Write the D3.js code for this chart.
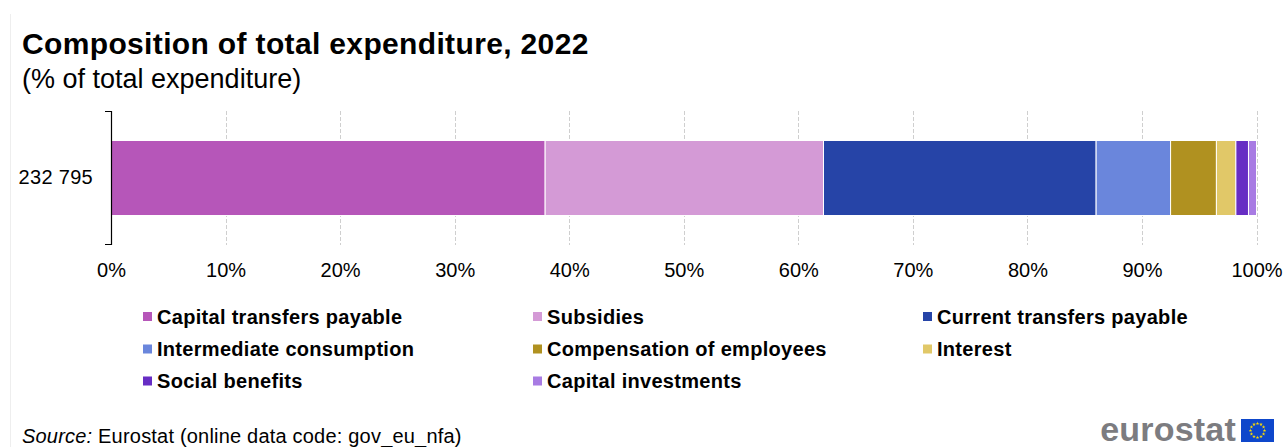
<!DOCTYPE html>
<html>
<head>
<meta charset="utf-8">
<script src="https://cdn.jsdelivr.net/npm/d3@7"></script>
<style>
  html, body { margin: 0; padding: 0; background: #fff; }
  svg { display: block; font-family: "Liberation Sans", Arial, sans-serif; }
</style>
</head>
<body>
<svg id="chart" width="1287" height="447"></svg>
<script>
// Expenditure categories, shares of total expenditure (%)
const categories = [
  "Capital transfers payable",
  "Subsidies",
  "Current transfers payable",
  "Intermediate consumption",
  "Compensation of employees",
  "Interest",
  "Social benefits",
  "Capital investments"
];
const shares = [37.9, 24.3, 23.8, 6.5, 4.0, 1.7, 1.1, 0.7];
const colors = ["#b656b9", "#d49ad6", "#2644a7", "#6a86dc", "#b09120", "#e1c868", "#672dc4", "#a87be3"];
const rowLabels = ["232 795"];
const xTicks = [0, 10, 20, 30, 40, 50, 60, 70, 80, 90, 100];

const FONT = "\"Liberation Sans\", Arial, sans-serif";
const svg = d3.select("#chart");

// faint frame line on the left edge
svg.append("line")
  .attr("x1", 10.5).attr("x2", 10.5).attr("y1", 14).attr("y2", 447)
  .attr("stroke", "#eeeeee").attr("stroke-width", 1);

// titles
svg.append("text")
  .attr("x", 22).attr("y", 54)
  .attr("font-size", 30).attr("font-weight", "bold").attr("fill", "#000")
  .attr("letter-spacing", 0.35)
  .text("Composition of total expenditure, 2022");
svg.append("text")
  .attr("x", 22).attr("y", 88)
  .attr("font-size", 27).attr("fill", "#000")
  .text("(% of total expenditure)");

// scales
const x = d3.scaleLinear().domain([0, 100]).range([111, 1256.5]);
const y = d3.scaleBand().domain(rowLabels).range([111, 245]).paddingInner(0).paddingOuter(0.393);

// dashed vertical gridlines
svg.append("g")
  .selectAll("line")
  .data(xTicks.filter(t => t > 0))
  .join("line")
  .attr("x1", d => Math.round(x(d)) + 0.5)
  .attr("x2", d => Math.round(x(d)) + 0.5)
  .attr("y1", 111).attr("y2", 245)
  .attr("stroke", "#cfcfcf").attr("stroke-width", 1)
  .attr("stroke-dasharray", "4,2");

// stacked segments
const row = { label: rowLabels[0] };
categories.forEach((c, i) => { row[c] = shares[i]; });
const stacked = d3.stack().keys(categories)([row]);

svg.append("g")
  .selectAll("rect")
  .data(stacked)
  .join("rect")
  .attr("x", d => x(d[0][0]))
  .attr("width", d => x(d[0][1]) - x(d[0][0]))
  .attr("y", y(rowLabels[0]))
  .attr("height", y.bandwidth())
  .attr("fill", (d, i) => colors[i])
  .attr("stroke", "#ffffff")
  .attr("stroke-width", 1);

// category axis (bracket style)
const yAxis = d3.axisLeft(y).tickSize(0).tickPadding(18);
const yg = svg.append("g").attr("transform", "translate(111,0)").call(yAxis);
yg.select(".domain").remove();
yg.selectAll("text").attr("font-size", 20).attr("fill", "#000").attr("font-family", FONT)
  .attr("letter-spacing", 0.3);
svg.append("path")
  .attr("d", "M105,111.5H111.5V244.5H105")
  .attr("fill", "none").attr("stroke", "#000").attr("stroke-width", 1.2);

// value axis labels
const xAxis = d3.axisBottom(x).tickValues(xTicks).tickFormat(d => d + "%").tickSize(0).tickPadding(0);
const xg = svg.append("g").attr("transform", "translate(0,263)").call(xAxis);
xg.select(".domain").remove();
xg.selectAll("text").attr("font-size", 20).attr("fill", "#000").attr("font-family", FONT);

// legend: three columns
const colX = [143, 533, 923];
const rowY = [316.5, 349, 381];
const legend = svg.append("g")
  .selectAll("g")
  .data(categories)
  .join("g")
  .attr("transform", (d, i) => `translate(${colX[i % 3]},${rowY[Math.floor(i / 3)]})`);
legend.append("rect")
  .attr("x", 0).attr("y", -4.5).attr("width", 9).attr("height", 9)
  .attr("fill", (d, i) => colors[i]);
legend.append("text")
  .attr("x", 14).attr("dy", "0.35em")
  .attr("font-size", 20).attr("font-weight", "bold").attr("fill", "#000")
  .attr("letter-spacing", 0.3)
  .text(d => d);

// source line
const src = svg.append("text").attr("x", 22).attr("y", 443)
  .attr("font-size", 20).attr("fill", "#000").attr("letter-spacing", 0.2);
src.append("tspan").attr("font-style", "italic").text("Source:");
src.append("tspan").text(" Eurostat (online data code: gov_eu_nfa)");

// eurostat logo
const logo = svg.append("g");
logo.append("text")
  .attr("x", 1236).attr("y", 441).attr("text-anchor", "end")
  .attr("font-size", 34).attr("font-weight", "bold").attr("fill", "#7c7c80")
  .attr("letter-spacing", 0.2)
  .text("eurostat");
logo.append("rect")
  .attr("x", 1241).attr("y", 419).attr("width", 33).attr("height", 23)
  .attr("fill", "#0e47cb");
const star = d3.symbol().type(d3.symbolStar).size(4);
logo.append("g")
  .selectAll("path")
  .data(d3.range(12))
  .join("path")
  .attr("d", star)
  .attr("transform", i => {
    const a = i * Math.PI / 6;
    return `translate(${1257.5 + 7 * Math.cos(a)},${430.5 + 7 * Math.sin(a)})`;
  })
  .attr("fill", "#ffdd00");
</script>
</body>
</html>
